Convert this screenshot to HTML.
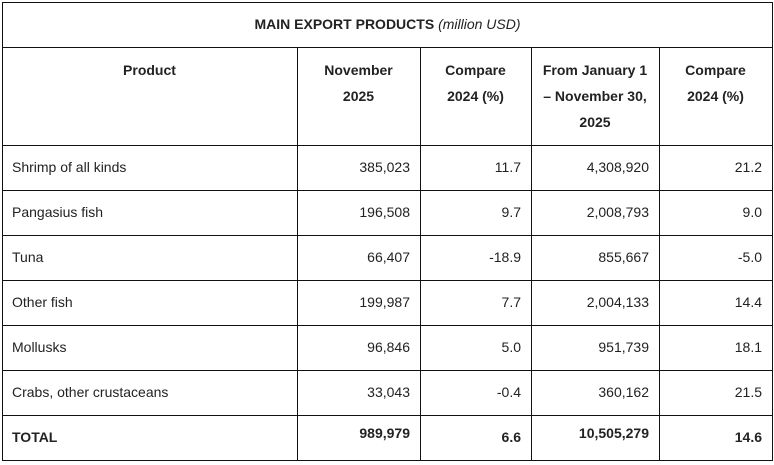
<!DOCTYPE html>
<html><head><meta charset="utf-8"><style>
body{margin:0;width:774px;height:465px;background:#fff;font-family:"Liberation Sans",sans-serif;color:#222;font-size:14px;position:relative;overflow:hidden}
.h{position:absolute;background:#111;height:1px}
.v{position:absolute;background:#111;width:1px}
.t{position:absolute;white-space:nowrap;line-height:18px}
.r{text-align:right}
.c{text-align:center}
b{font-weight:bold}
</style></head><body>
<div class="h" style="left:2px;width:771px;top:2px"></div>
<div class="h" style="left:2px;width:771px;top:47px"></div>
<div class="h" style="left:2px;width:771px;top:145px"></div>
<div class="h" style="left:2px;width:771px;top:190px"></div>
<div class="h" style="left:2px;width:771px;top:235px"></div>
<div class="h" style="left:2px;width:771px;top:280px"></div>
<div class="h" style="left:2px;width:771px;top:325px"></div>
<div class="h" style="left:2px;width:771px;top:370px"></div>
<div class="h" style="left:2px;width:771px;top:415px"></div>
<div class="h" style="left:2px;width:771px;top:460px"></div>
<div class="v" style="left:2px;top:2px;height:459px"></div>
<div class="v" style="left:772px;top:2px;height:459px"></div>
<div class="v" style="left:297px;top:47px;height:414px"></div>
<div class="v" style="left:420px;top:47px;height:414px"></div>
<div class="v" style="left:531px;top:47px;height:414px"></div>
<div class="v" style="left:659px;top:47px;height:414px"></div>

<div class="t c" style="left:2px;width:771px;top:15px"><b>MAIN EXPORT PRODUCTS</b> <i>(million USD)</i></div>

<div class="t c" style="left:2px;width:295px;top:61px;font-weight:bold">Product</div>
<div class="t c" style="left:297px;width:123px;top:57px;font-weight:bold;line-height:26px">November<br>2025</div>
<div class="t c" style="left:420px;width:111px;top:57px;font-weight:bold;line-height:26px">Compare<br>2024 (%)</div>
<div class="t c" style="left:531px;width:128px;top:57px;font-weight:bold;line-height:26px">From January 1<br>– November 30,<br>2025</div>
<div class="t c" style="left:659px;width:113px;top:57px;font-weight:bold;line-height:26px">Compare<br>2024 (%)</div>

<div id="rows"></div>
<script>
var d=[["Shrimp of all kinds","385,023","11.7","4,308,920","21.2"],
["Pangasius fish","196,508","9.7","2,008,793","9.0"],
["Tuna","66,407","-18.9","855,667","-5.0"],
["Other fish","199,987","7.7","2,004,133","14.4"],
["Mollusks","96,846","5.0","951,739","18.1"],
["Crabs, other crustaceans","33,043","-0.4","360,162","21.5"]];
var h="";
d.forEach(function(r,i){var y=145+45*i+13;
h+='<div class="t" style="left:12px;top:'+y+'px">'+r[0]+'</div>';
h+='<div class="t r" style="left:297px;width:113px;top:'+y+'px">'+r[1]+'</div>';
h+='<div class="t r" style="left:420px;width:101px;top:'+y+'px">'+r[2]+'</div>';
h+='<div class="t r" style="left:531px;width:118px;top:'+y+'px">'+r[3]+'</div>';
h+='<div class="t r" style="left:659px;width:103px;top:'+y+'px">'+r[4]+'</div>';});
h+='<div class="t" style="left:12px;top:428px;font-weight:bold">TOTAL</div>';
h+='<div class="t r" style="left:297px;width:113px;top:424px;font-weight:bold">989,979</div>';
h+='<div class="t r" style="left:420px;width:101px;top:428px;font-weight:bold">6.6</div>';
h+='<div class="t r" style="left:531px;width:118px;top:424px;font-weight:bold">10,505,279</div>';
h+='<div class="t r" style="left:659px;width:103px;top:428px;font-weight:bold">14.6</div>';
document.getElementById("rows").innerHTML=h;
</script>
</body></html>
